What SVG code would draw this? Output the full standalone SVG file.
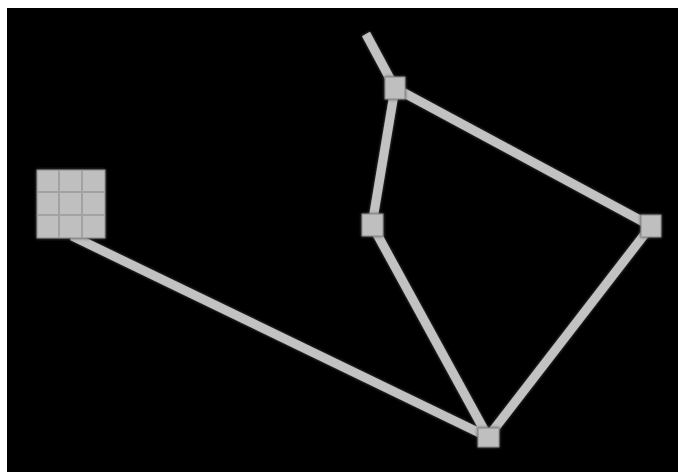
<svg xmlns="http://www.w3.org/2000/svg" width="678" height="472" viewBox="0 0 678 472">
<defs>
<filter id="glow" x="-20%" y="-20%" width="140%" height="140%">
<feGaussianBlur in="SourceAlpha" stdDeviation="1.5" result="b"/>
<feFlood flood-color="#555555"/>
<feComposite in2="b" operator="in" result="s"/>
<feMerge><feMergeNode in="s"/><feMergeNode in="SourceGraphic"/></feMerge>
</filter>
<style>
.edge{stroke:#c2c2c2;stroke-width:9;fill:none;stroke-linecap:butt}
.node{fill:#bfbfbf;stroke:#8a8a8a;stroke-width:1}
.grid{stroke:#a2a2a2;stroke-width:2}
</style>
</defs>
<rect x="0" y="0" width="678" height="472" fill="#ffffff"/>
<rect x="7" y="8" width="671" height="464" fill="#000000"/>
<g id="connectors" filter="url(#glow)">
<line class="edge" x1="72" y1="236" x2="488" y2="437"/>
<line class="edge" x1="366" y1="34" x2="395" y2="88"/>
<line class="edge" x1="395" y1="88" x2="651" y2="226"/>
<line class="edge" x1="395" y1="88" x2="372" y2="225"/>
<line class="edge" x1="372" y1="225" x2="488" y2="437"/>
<line class="edge" x1="651" y1="226" x2="488" y2="437"/>
</g>
<g id="grid-node" filter="url(#glow)">
<rect class="node" x="37" y="170" width="68" height="68"/>
<line class="grid" x1="59" y1="170" x2="59" y2="238"/>
<line class="grid" x1="82" y1="170" x2="82" y2="238"/>
<line class="grid" x1="37" y1="192" x2="105" y2="192"/>
<line class="grid" x1="37" y1="215" x2="105" y2="215"/>
</g>
<g id="node-a" filter="url(#glow)"><rect class="node" x="385" y="77" width="20" height="22"/></g>
<g id="node-b" filter="url(#glow)"><rect class="node" x="362" y="214" width="21" height="22"/></g>
<g id="node-c" filter="url(#glow)"><rect class="node" x="641" y="215" width="20" height="22"/></g>
<g id="node-d" filter="url(#glow)"><rect class="node" x="478" y="428" width="21" height="19"/></g>
</svg>
